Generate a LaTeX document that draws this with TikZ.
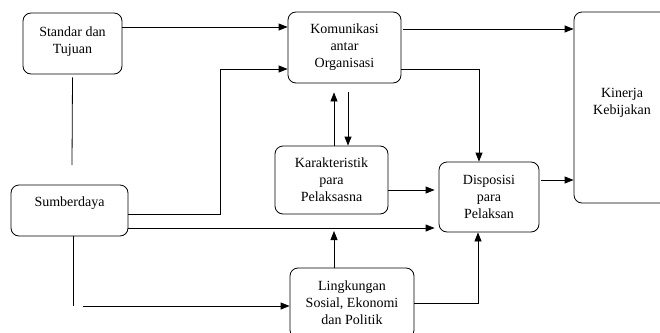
\documentclass[tikz,border=0pt]{standalone}
\usepackage{fontspec}
\setmainfont{Liberation Serif}
\usetikzlibrary{arrows.meta}
\tikzset{
  blok/.style={draw, rounded corners=8pt, line width=0.8pt, align=center,
    inner sep=0pt, font=\fontsize{14}{17}\selectfont},
  panah/.style={-{Triangle[length=9pt,width=7pt]}, line width=0.8pt},
  garis/.style={line width=0.8pt}
}
\begin{document}
\begin{tikzpicture}[x=1pt,y=-1pt]
	\useasboundingbox (0,0) rectangle (660,332);
	% kotak
	\node[blok, minimum width=99pt, minimum height=61pt] (standar) at (72.5,43.5) {Standar dan\\Tujuan\\[-10pt]};
	\node[blok, minimum width=113pt, minimum height=71pt] (komunikasi) at (344.5,47.5) {Komunikasi\\antar\\Organisasi};
	\node[blok, minimum width=96pt, minimum height=191pt] (kinerja) at (622,107.5) {Kinerja\\Kebijakan\\[-4pt]};
	\node[blok, minimum width=117pt, minimum height=51pt] (sumberdaya) at (69.5,210.5) {Sumberdaya\\[0pt]};
	\node[blok, minimum width=113pt, minimum height=68pt] (karakteristik) at (331.5,180) {Karakteristik\\para\\Pelaksasna};
	\node[blok, minimum width=100pt, minimum height=70pt] (disposisi) at (489,197) {Disposisi\\para\\Pelaksan};
	\node[blok, minimum width=124pt, minimum height=70pt] (lingkungan) at (352,303) {Lingkungan\\Sosial, Ekonomi\\dan Politik};
	% titik bebas
	\coordinate (ujungA) at (72,165);
	\coordinate (ujungB) at (73,306);
	\coordinate (ujungC) at (83,306);
	\coordinate (temu) at (334,231);
	% garis dan panah
	\draw[panah] (standar.east |- 0,27) -- (komunikasi.west |- 0,27);
	\draw[garis] ([yshift=-3pt]standar.south) -- (ujungA);
	\draw[panah] (sumberdaya.east |- 0,214) -| (220,69) -- (komunikasi.west |- 0,69);
	\draw[panah, shorten >=4pt] (sumberdaya.east |- 0,228) -- (disposisi.west |- 0,228);
	\draw[garis] (sumberdaya.south -| ujungB) -- (ujungB);
	\draw[panah] (ujungC) -- (lingkungan.west |- ujungC);
	\draw[panah, shorten <=2pt] (komunikasi.east |- 0,29) -- (kinerja.west |- 0,29);
	\draw[panah] (komunikasi.east |- 0,69) -| ([xshift=-10pt]disposisi.north);
	\draw[panah, shorten >=9pt] (karakteristik.north -| 334,0) -- (komunikasi.south -| 334,0);
	\draw[panah, shorten <=9pt] (komunikasi.south -| 348,0) -- (karakteristik.north -| 348,0);
	\draw[panah, shorten >=4pt] (karakteristik.east |- 0,190) -- (disposisi.west |- 0,190);
	\draw[panah, shorten <=2pt] (disposisi.east |- 0,180) -- (kinerja.west |- 0,180);
	\draw[panah] (lingkungan.north -| temu) -- (temu);
	\draw[panah] (lingkungan.east |- 0,303) -| ([xshift=-11pt]disposisi.south);
\end{tikzpicture}
\end{document}
